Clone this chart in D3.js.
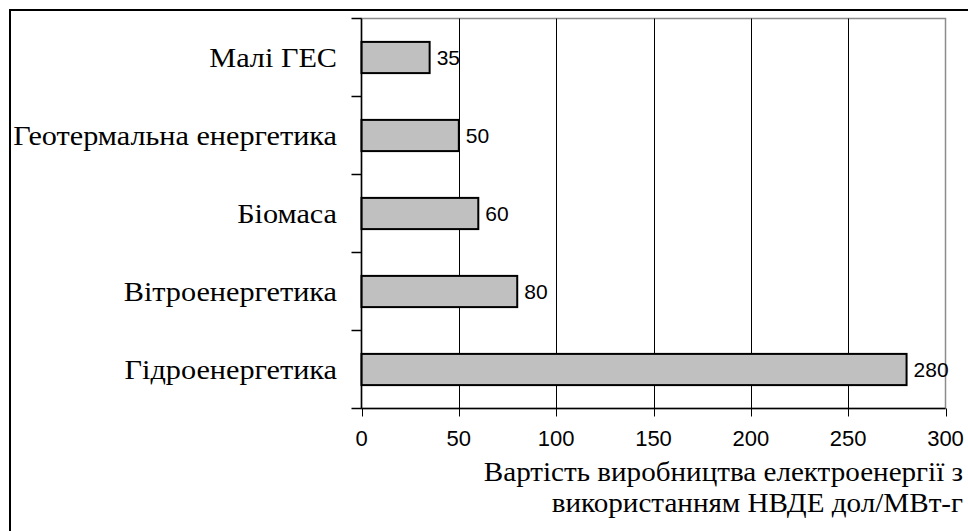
<!DOCTYPE html>
<html>
<head>
<meta charset="utf-8">
<script src="https://cdn.jsdelivr.net/npm/d3@7"></script>
<style>
  html, body { margin: 0; padding: 0; background: #fff; }
  svg { display: block; }
  svg text.serif { font-family: "Liberation Serif", "Times New Roman", Tinos, "Noto Serif", "DejaVu Serif", serif !important; }
  svg text.sans { font-family: "Liberation Sans", Arial, Arimo, sans-serif !important; }
</style>
</head>
<body>
<svg id="chart" width="968" height="531"></svg>
<script>
const categories = ["Малі ГЕС", "Геотермальна енергетика", "Біомаса", "Вітроенергетика", "Гідроенергетика"];
const values = [35, 50, 60, 80, 280];
const xTicks = [0, 50, 100, 150, 200, 250, 300];
const axisTitleLines = ["Вартість виробництва електроенергії з", "використанням НВДЕ дол/МВт-г"];

const svg = d3.select("#chart");
const W = 968, H = 531;
const plot = { left: 361.5, top: 18.5, right: 945.5, bottom: 408.5 };

const x = d3.scaleLinear().domain([0, 300]).range([plot.left, plot.right]);
const y = d3.scaleBand().domain(categories).range([plot.top, plot.bottom]).paddingInner(0.6).paddingOuter(0.3);
const yBounds = d3.scaleLinear().domain([0, categories.length]).range([plot.top, plot.bottom]);

// outer frame: top and left edges (right and bottom fall outside the picture)
svg.append("path")
  .attr("d", `M10,${H} L10,10 L${W},10`)
  .attr("fill", "none").attr("stroke", "#000").attr("stroke-width", 2);

// plot area border (grey)
svg.append("rect")
  .attr("x", plot.left).attr("y", plot.top)
  .attr("width", plot.right - plot.left).attr("height", plot.bottom - plot.top)
  .attr("fill", "none").attr("stroke", "#8c8c8c").attr("stroke-width", 1.5);

// vertical gridlines
svg.append("g").selectAll("line")
  .data(xTicks.filter(t => t > 0 && t < 300))
  .join("line")
  .attr("x1", d => Math.round(x(d)) + 0.5).attr("x2", d => Math.round(x(d)) + 0.5)
  .attr("y1", plot.top).attr("y2", plot.bottom)
  .attr("stroke", "#000").attr("stroke-width", 1);

// bars
svg.append("g").selectAll("rect")
  .data(categories)
  .join("rect")
  .attr("x", x(0))
  .attr("y", d => y(d))
  .attr("width", (d, i) => x(values[i]) - x(0))
  .attr("height", y.bandwidth())
  .attr("fill", "#c0c0c0")
  .attr("stroke", "#000")
  .attr("stroke-width", 2);

// value labels
svg.append("g").selectAll("text")
  .data(categories)
  .join("text")
  .attr("class", "sans")
  .attr("font-size", 21)
  .attr("x", (d, i) => x(values[i]) + 7)
  .attr("y", d => y(d) + y.bandwidth() / 2 + 7.5)
  .attr("fill", "#000")
  .text((d, i) => values[i]);

// x axis (drawn from the scale)
svg.append("line")
  .attr("x1", plot.left).attr("x2", plot.right)
  .attr("y1", plot.bottom).attr("y2", plot.bottom)
  .attr("stroke", "#000").attr("stroke-width", 1.5);
svg.append("g").selectAll("line")
  .data(xTicks)
  .join("line")
  .attr("x1", d => Math.round(x(d)) + 0.5).attr("x2", d => Math.round(x(d)) + 0.5)
  .attr("y1", plot.bottom).attr("y2", plot.bottom + 8)
  .attr("stroke", "#000").attr("stroke-width", 1);
svg.append("g").selectAll("text")
  .data(xTicks)
  .join("text")
  .attr("class", "sans")
  .attr("font-size", 22)
  .attr("text-anchor", "middle")
  .attr("x", d => x(d))
  .attr("y", plot.bottom + 37)
  .attr("fill", "#000")
  .text(d => d3.format("d")(d));

// y axis line + ticks at category boundaries
svg.append("line")
  .attr("x1", plot.left).attr("x2", plot.left)
  .attr("y1", plot.top).attr("y2", plot.bottom)
  .attr("stroke", "#000").attr("stroke-width", 1.5);
svg.append("g").selectAll("line")
  .data(d3.range(categories.length + 1))
  .join("line")
  .attr("x1", plot.left - 10).attr("x2", plot.left)
  .attr("y1", d => yBounds(d)).attr("y2", d => yBounds(d))
  .attr("stroke", "#000").attr("stroke-width", 1.5);

// category labels (slightly widened, as in the reference)
svg.append("g").selectAll("text")
  .data(categories)
  .join("text")
  .attr("class", "serif")
  .attr("font-size", 28)
  .attr("text-anchor", "end")
  .attr("transform", d => `translate(337,${y(d) + y.bandwidth() / 2 + 9}) scale(1.08,1)`)
  .attr("fill", "#000")
  .text(d => d);

// axis title
svg.append("g").selectAll("text")
  .data(axisTitleLines)
  .join("text")
  .attr("class", "serif")
  .attr("font-size", 28)
  .attr("text-anchor", "end")
  .attr("transform", (d, i) => `translate(963,${481 + i * 31}) scale(1.04,1)`)
  .attr("fill", "#000")
  .text(d => d);
</script>
</body>
</html>
